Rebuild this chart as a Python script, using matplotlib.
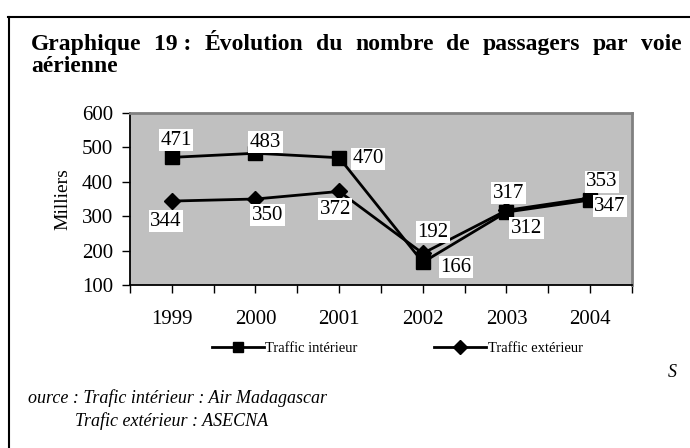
import matplotlib
matplotlib.use('Agg')
import matplotlib.pyplot as plt
from matplotlib.lines import Line2D
from matplotlib.ticker import MultipleLocator

plt.rcParams['font.family'] = ['Liberation Serif', 'DejaVu Serif']

# data (milliers de passagers)
years = ['1999', '2000', '2001', '2002', '2003', '2004']
interieur = [471, 483, 470, 166, 312, 347]
exterieur = [344, 350, 372, 192, 317, 353]

# label offsets in pixels (dx, dy)
off_int = [(4, 17), (10, 11), (29, -1), (33, -5), (20, -16), (20, -6)]
off_ext = [(-6, -20), (12, -16), (-4, -18), (10, 21), (2, 17), (12, 16)]

fig = plt.figure(figsize=(6.9, 4.48), dpi=100)
ax = fig.add_axes([130/690, 1 - 285/448, 502/690, 172/448])
ax.set_facecolor('#C0C0C0')

x = list(range(len(years)))
ax.plot(x, interieur, color='black', lw=2, marker='s', ms=10, label='Traffic intérieur', zorder=3)
ax.plot(x, exterieur, color='black', lw=2, marker='D', ms=8, label='Traffic extérieur', zorder=3)

for xi, v, o in zip(x, interieur, off_int):
    ax.annotate(str(v), (xi, v), xytext=o, textcoords='offset pixels',
                ha='center', va='center', fontsize=15, zorder=4,
                bbox=dict(facecolor='white', edgecolor='none', pad=1))
for xi, v, o in zip(x, exterieur, off_ext):
    ax.annotate(str(v), (xi, v), xytext=o, textcoords='offset pixels',
                ha='center', va='center', fontsize=15, zorder=4,
                bbox=dict(facecolor='white', edgecolor='none', pad=1))

ax.set_xlim(-0.5, 5.5)
ax.set_ylim(100, 600)
ax.set_xticks(x)
ax.set_xticklabels(years)
ax.set_xticks([i - 0.5 for i in range(len(years) + 1)], minor=True)
ax.yaxis.set_major_locator(MultipleLocator(100))
ax.tick_params(axis='both', which='both', direction='out', length=6, width=1,
               labelsize=15, colors='black')
ax.tick_params(axis='x', pad=12)
ax.tick_params(axis='y', pad=6)
ax.set_ylabel('Milliers', fontsize=14, labelpad=8)

for s in ['left', 'bottom']:
    ax.spines[s].set_color('black')
    ax.spines[s].set_linewidth(1.3)
for s in ['top', 'right']:
    ax.spines[s].set_color('#808080')
    ax.spines[s].set_linewidth(2)

leg = ax.legend(loc='center', bbox_to_anchor=(0.532, -0.37), ncol=2, frameon=False,
                fontsize=10.5, handlelength=3.6, columnspacing=5.2, handletextpad=0.1)
for h in leg.legend_handles:
    h.set_markersize(7)

# title, justified first line
title_words = ['Graphique', '19 :', 'Évolution', 'du', 'nombre', 'de', 'passagers', 'par', 'voie']
x0, x1 = 31, 682
fig.canvas.draw()
r = fig.canvas.get_renderer()
texts = [fig.text(0, 0, w, fontsize=17, fontweight='bold', va='baseline') for w in title_words]
widths = [t.get_window_extent(renderer=r).width for t in texts]
gap = (x1 - x0 - sum(widths)) / (len(title_words) - 1)
cx = x0
for t, w in zip(texts, widths):
    t.set_position((cx / 690, 1 - 50 / 448))
    cx += w + gap
fig.text(31/690, 1 - 72/448, 'aérienne', fontsize=17, fontweight='bold', va='baseline')

# source
fig.text(672/690, 1 - 372/448, 'S', fontsize=13, style='italic', ha='center', va='center')
fig.text(28/690, 1 - 398/448, 'ource : Trafic intérieur : Air Madagascar', fontsize=13,
         style='italic', va='center')
fig.text(75/690, 1 - 421/448, 'Trafic extérieur : ASECNA', fontsize=13,
         style='italic', va='center')

# outer frame (top and left)
fig.add_artist(Line2D([8/690, 1], [1 - 17/448, 1 - 17/448], color='black', lw=1.5))
fig.add_artist(Line2D([9/690, 9/690], [0, 1 - 17/448], color='black', lw=1.5))

fig.savefig('out.png', dpi=100)
